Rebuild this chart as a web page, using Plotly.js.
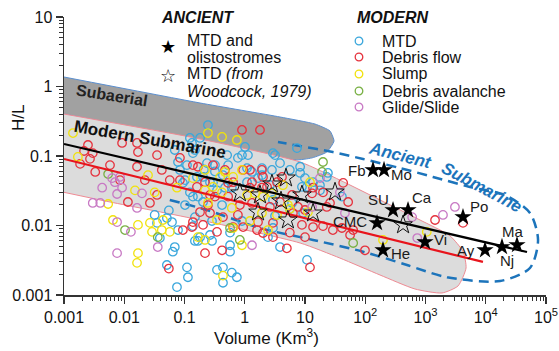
<!DOCTYPE html>
<html><head><meta charset="utf-8">
<script src="https://cdn.plot.ly/plotly-3.0.1.min.js"></script>
<style>html,body{margin:0;padding:0;background:#fff}#chart{width:559px;height:351px}</style>
</head><body><div id="chart"></div>
<script>
// ---------------- data ----------------
const mtdV  = [0.069,0.078,0.084,0.102,0.245,1.01,3.18,3.85,7.36,0.123,0.149,0.51,0.77,0.90,0.110,0.32,0.53,1.93,2.83,8.3,0.161,0.435,1.66,10,0.094,0.265,0.123,0.346,0.61,2.62,8.9,0.167,0.181,0.133,0.138,0.236,0.32,1.13,1.09,2.94,5.6,0.203,0.297,0.47,1.32,1.93,0.138,0.203,0.42,0.138,0.265,0.167,0.90,3.18,5.6,8.3,24,10.8,17.7,41,2.94,6.1,9.3,2.94,23,13.6,17.7,0.032,0.035,0.039,0.051,0.062,0.069,0.064,0.051,0.075,0.078,0.110,0.114,0.102,0.149,0.286,0.149,0.181,0.286,0.57,0.57,0.346,0.435,0.61,0.74,0.435,3.85,10.8,2.43,0.57,1.09,0.055,0.21];
const mtdHL = [0.122,0.082,0.063,0.045,0.279,0.135,0.103,0.079,0.130,0.182,0.122,0.103,0.094,0.103,0.074,0.074,0.074,0.067,0.063,0.070,0.050,0.053,0.048,0.048,0.041,0.042,0.030,0.032,0.035,0.038,0.036,0.026,0.182,0.154,0.110,0.079,0.060,0.103,0.067,0.110,0.063,0.050,0.042,0.035,0.059,0.053,0.026,0.0218,0.0197,0.0098,0.0073,0.0060,0.0116,0.0137,0.0173,0.057,0.057,0.036,0.038,0.026,0.0233,0.0211,0.0151,0.0092,0.050,0.042,0.032,0.0142,0.0109,0.0066,0.0128,0.0112,0.0049,0.0042,0.0027,0.0013,0.0086,0.0025,0.0018,0.0197,0.0132,0.0116,0.0060,0.0068,0.0060,0.0052,0.0042,0.0023,0.0025,0.0021,0.0018,0.0015,0.0049,0.0032,0.0068,0.0079,0.042,0.0165,0.064];

const dfV  = [0.0025,0.00215,0.0030,0.0092,0.0163,0.0169,0.0027,0.00185,0.0058,0.0163,0.0033,0.022,0.042,0.057,0.035,0.084,0.0115,0.0267,0.035,0.094,0.055,0.0085,0.90,1.79,0.138,0.94,1.22,1.93,0.64,0.084,0.219,1.32,2.01,4.15,0.265,0.53,1.93,6.1,0.167,0.297,0.47,0.53,0.161,1.22,2.34,3.43,0.32,0.83,1.32,2.62,0.181,0.265,0.435,0.77,1.66,2.94,0.133,0.203,0.346,0.94,2.01,5.6,3.85,6.3,43,19.9,13.1,7.65,26,52,19.9,41,8.9,13.6,29,63,56,13.6,10,23,10,99,12.1,1440,4190,0.138,0.245,0.64,1.60,2.94,5.0,0.219,0.42];
const dfHL = [0.144,0.118,0.110,0.154,0.154,0.114,0.091,0.077,0.074,0.070,0.059,0.045,0.063,0.045,0.103,0.094,0.0218,0.0211,0.0275,0.0086,0.0024,0.045,0.237,0.237,0.074,0.063,0.063,0.063,0.042,0.045,0.042,0.042,0.050,0.050,0.0275,0.026,0.035,0.0275,0.070,0.074,0.063,0.041,0.036,0.035,0.036,0.042,0.026,0.0197,0.0211,0.0185,0.0156,0.0151,0.0132,0.0142,0.0112,0.0109,0.0095,0.0102,0.0081,0.0095,0.0078,0.0079,0.0218,0.0151,0.041,0.030,0.029,0.0185,0.0211,0.0218,0.0098,0.0092,0.0102,0.0095,0.0086,0.0086,0.0073,0.035,0.0167,0.0185,0.0068,0.0044,0.0025,0.012,0.0109,0.0112,0.0197,0.0095,0.0086,0.0068,0.0047,0.0040,0.0044];

const slV  = [0.00141,0.0017,0.0151,0.0248,0.032,0.075,0.0054,0.0065,0.0169,0.0169,0.0163,0.0267,0.0289,0.042,0.044,0.057,0.245,0.42,0.74,0.219,0.47,0.90,0.297,4.3,1.48,0.138,0.39,0.64,0.219,0.42,1.09,2.01,0.245,0.61,1.93,0.346,1.22,0.64,2.43,5.2,12.1,5.6,3.43,11.2,2.83,197,1050,0.167,0.219,0.90,0.435];
const slHL = [0.214,0.097,0.032,0.053,0.030,0.035,0.0204,0.0120,0.0102,0.0040,0.0029,0.0109,0.0081,0.0086,0.0120,0.0081,0.214,0.188,0.170,0.063,0.059,0.063,0.036,0.038,0.029,0.048,0.050,0.050,0.032,0.030,0.0275,0.026,0.0211,0.0179,0.0151,0.0120,0.0116,0.0092,0.0086,0.0197,0.042,0.0173,0.0142,0.0156,0.029,0.0062,0.0081,0.0068,0.0062,0.0052,0.0019];

const daV  = [0.0054,0.0103,0.036,0.57,0.83,19.9,19.2,63];
const daHL = [0.055,0.0086,0.0068,0.0092,0.0062,0.082,0.059,0.0056];

const gsV  = [0.0063,0.0085,0.0043,0.0070,0.0092,0.0076,0.0030,0.0040,0.0163,0.0076,0.0129,0.0076,0.036,0.0197,17.7,38,46,13.1,1950,3080,730,600,1.32];
const gsHL = [0.048,0.050,0.035,0.042,0.035,0.0284,0.0211,0.0211,0.0179,0.0112,0.0081,0.0040,0.0049,0.029,0.048,0.030,0.0151,0.0185,0.0142,0.0185,0.0066,0.0132,0.0052];

// ancient MTDs and olistostromes
const ancNames = ["Fb","Mo","SU","Ca","CMC","Po","Vi","He","Ay","Nj","Ma"];
const ancV  = [134.5,205,289,513,157,4190,981,197,9720,18600,33000];
const ancHL = [0.063,0.063,0.0167,0.0167,0.01087,0.01324,0.0058,0.00443,0.00443,0.00491,0.00524];
// label offsets from each star, in pixels (right, up)
const ancLabelDX = [-16,17,-15,14,-27,16,15,18,-19,5,-4];
const ancLabelDY = [-1,-5,11,13,1,11,2,-3,0,-14,14];

// Woodcock (1979)
const woodV  = [0.83,1.66,1.79,2.83,4.84,4.0,5.2,8.9,13.6,31.5,424];
const woodHL = [0.0294,0.0156,0.0275,0.0395,0.0482,0.0225,0.012,0.0275,0.0151,0.0303,0.0102];

// regression lines
const blackLineV = [0.001,48400], blackLineHL = [0.149,0.00416];
const redLineV   = [0.001,9000],  redLineHL   = [0.0906,0.00299];

// envelopes
const subaerialV  = [0.001,0.181,3.85,14.7,26,30.3,23,13.1,6.8,0.181,0.001];
const subaerialHL = [1.37,0.579,0.364,0.288,0.229,0.164,0.114,0.094,0.0876,0.170,0.402];
const submarineV  = [0.001,0.181,8.3,38,176,811,2550,4200,4710,3470,1880,670,176,38,8.3,0.181,0.0058,0.001];
const submarineHL = [0.402,0.176,0.082,0.045,0.0233,0.0120,0.0071,0.0042,0.00245,0.00135,0.00107,0.00122,0.00194,0.0034,0.0056,0.0120,0.0218,0.030];
const ancEnvV  = [0.057,0.236,1.79,13.6,92,493,2270,17300,54200,73800,54200,20900,5480,1330,377,92,29,8.3,3.56];
const ancEnvHL = [0.0233,0.0167,0.0092,0.0062,0.0042,0.0027,0.0018,0.00159,0.00245,0.0062,0.0151,0.0275,0.0358,0.050,0.067,0.0906,0.114,0.139,0.159];

const xTickVals = [0.001,0.01,0.1,1,10,100,1000,10000,100000];
const xTickText = ["0.001","0.01","0.1","1","10","10<sup>2</sup>","10<sup>3</sup>","10<sup>4</sup>","10<sup>5</sup>"];
const yTickVals = [0.001,0.01,0.1,1,10];
const yTickText = ["0.001","0.01","0.1","1","10"];

// ---------------- styling ----------------
const C = {mtd:"#3aa7dc", df:"#e5323d", sl:"#f1e20c", da:"#78b043", gs:"#c879c4", blue:"#1c74bb"};
const FONT = "Liberation Sans, Arial, sans-serif";
function minorVals(lo, hi){ const v=[]; for(let e=lo;e<hi;e++){ for(let m=2;m<=9;m++) v.push(m*Math.pow(10,e)); } return v; }

function circles(x,y,color,name){
  return {type:"scatter",mode:"markers",x:x,y:y,name:name,
    marker:{symbol:"circle-open",size:8.5,color:color,line:{width:1.3,color:color}},hoverinfo:"x+y"};
}

const traces = [
  {type:"scatter",mode:"lines",x:subaerialV,y:subaerialHL,fill:"toself",fillcolor:"#a1a1a1",
   line:{color:"#5b8fcf",width:1,shape:"spline",smoothing:0.5},hoverinfo:"skip"},
  {type:"scatter",mode:"lines",x:submarineV,y:submarineHL,fill:"toself",fillcolor:"#dcdcdc",
   line:{color:"#ee8a93",width:1,shape:"spline",smoothing:0.6},hoverinfo:"skip"},
  {type:"scatter",mode:"lines",x:ancEnvV,y:ancEnvHL,
   line:{color:C.blue,width:2.5,dash:"10px,6px",shape:"spline",smoothing:0.8},hoverinfo:"skip"},
  circles(mtdV,mtdHL,C.mtd,"MTD"),
  circles(dfV,dfHL,C.df,"Debris flow"),
  circles(slV,slHL,C.sl,"Slump"),
  circles(daV,daHL,C.da,"Debris avalanche"),
  circles(gsV,gsHL,C.gs,"Glide/Slide"),
  {type:"scatter",mode:"lines",x:redLineV,y:redLineHL,line:{color:"#e8141c",width:2.2},hoverinfo:"skip"},
  {type:"scatter",mode:"lines",x:blackLineV,y:blackLineHL,line:{color:"#000",width:2.2},hoverinfo:"skip"},
  {type:"scatter",mode:"markers",x:woodV,y:woodHL,name:"MTD (Woodcock, 1979)",
   marker:{symbol:"star-open",size:14,color:"#111",line:{width:1,color:"#111"}}},
  {type:"scatter",mode:"markers",x:ancV,y:ancHL,name:"MTD and olistostromes",
   marker:{symbol:"star",size:13,color:"#000"},cliponaxis:false}
];

function px2x(px){ return (px-64)/482; }
function py2y(py){ return (295-py)/278; }
function ann(text,px,py,opts){
  return Object.assign({xref:"paper",yref:"paper",x:px2x(px),y:py2y(py),text:text,showarrow:false,
    xanchor:"left",yanchor:"middle",font:{family:FONT,size:16,color:"#111"}},opts||{});
}
const annotations = [
  ann("<b><i>ANCIENT</i></b>",197,18,{xanchor:"center"}),
  ann("★",168,46,{xanchor:"center",font:{family:"DejaVu Sans",size:18,color:"#000"}}),
  ann("MTD and",185,40),
  ann("olistostromes",185,57),
  ann("☆",168,75,{xanchor:"center",font:{family:"DejaVu Sans",size:18,color:"#000"}}),
  ann("MTD <i>(from</i>",185,74),
  ann("<i>Woodcock, 1979)</i>",185,91),
  ann("<b><i>MODERN</i></b>",393,18,{xanchor:"center"}),
  ann("MTD",380,41), ann("Debris flow",380,57), ann("Slump",380,74),
  ann("Debris avalanche",380,91), ann("Glide/Slide",380,107),
  ann("<b>Subaerial</b>",112,95,{xanchor:"center",textangle:9,font:{family:FONT,size:16,color:"#222"}}),
  ann("<b>Modern Submarine</b>",150,139,{xanchor:"center",textangle:10,font:{family:FONT,size:17,color:"#111"}}),
  ann("<b><i>Ancient</i></b>",400,155,{xanchor:"center",textangle:14,font:{family:FONT,size:17,color:C.blue}}),
  ann("<b><i>Submarine</i></b>",482,187,{xanchor:"center",textangle:28,font:{family:FONT,size:17,color:C.blue}}),
  ann("Volume (Km<sup>3</sup>)",266,337,{xanchor:"center",font:{family:FONT,size:17,color:"#111"}}),
  ann("H/L",19,118,{xanchor:"center",textangle:-90,font:{family:FONT,size:17,color:"#111"}})
];
// labels of the ancient deposits, anchored on their stars (log axes take log10 positions)
ancNames.forEach((n,i)=>annotations.push({xref:"x",yref:"y",x:Math.log10(ancV[i]),y:Math.log10(ancHL[i]),
  text:n,showarrow:false,xanchor:"center",yanchor:"middle",xshift:ancLabelDX[i],yshift:ancLabelDY[i],
  font:{family:FONT,size:15,color:"#1a1a1a"}}));

const legendColors = [C.mtd,C.df,C.sl,C.da,C.gs];
const legendY = [41,57,74,91,107];
const shapes = legendColors.map((c,i)=>({type:"circle",xref:"paper",yref:"paper",
  x0:px2x(359-3.8),x1:px2x(359+3.8),y0:py2y(legendY[i]+3.8),y1:py2y(legendY[i]-3.8),
  line:{color:c,width:1.3},fillcolor:"rgba(0,0,0,0)"}));

const axisCommon = {type:"log",showgrid:false,zeroline:false,showline:true,linecolor:"#333",linewidth:1.5,
  ticks:"outside",ticklen:7,tickwidth:1.3,tickcolor:"#333",tickmode:"array",
  tickfont:{family:FONT,size:16,color:"#111"}};

const layout = {
  width:559,height:351,margin:{l:64,r:13,t:17,b:56},
  paper_bgcolor:"#fff",plot_bgcolor:"#fff",showlegend:false,
  font:{family:FONT},
  xaxis:Object.assign({},axisCommon,{range:[-3,5],tickvals:xTickVals,ticktext:xTickText,
    minor:{tickmode:"array",tickvals:minorVals(-3,5),ticks:"outside",ticklen:4,tickwidth:1,tickcolor:"#333"}}),
  yaxis:Object.assign({},axisCommon,{range:[-3,1],tickvals:yTickVals,ticktext:yTickText,
    minor:{tickmode:"array",tickvals:minorVals(-3,1),ticks:"outside",ticklen:4,tickwidth:1,tickcolor:"#333"}}),
  annotations:annotations,shapes:shapes
};
Plotly.newPlot("chart",traces,layout,{staticPlot:true,displayModeBar:false});
</script></body></html>
